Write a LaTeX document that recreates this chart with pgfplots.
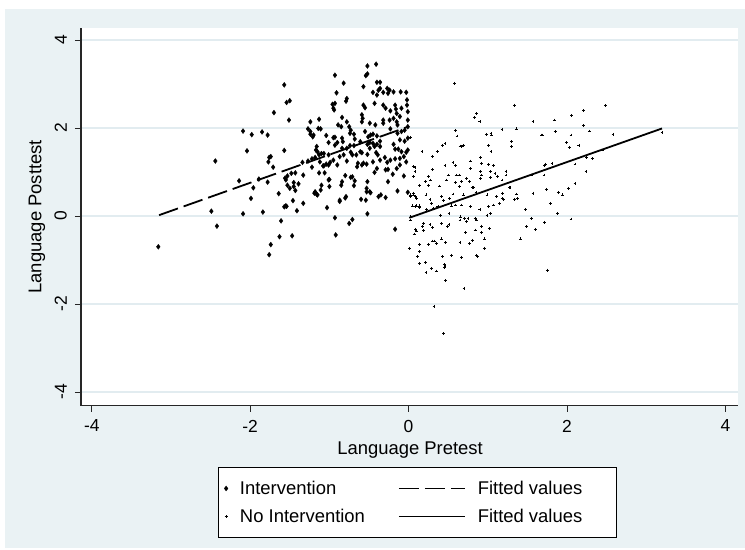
\documentclass[border=0pt]{standalone}
\usepackage{pgfplots}
\pgfplotsset{compat=1.18}
\usepackage{fontspec}
\setmainfont{Liberation Sans}
\definecolor{bgc}{RGB}{234,242,244}
\definecolor{gridc}{RGB}{226,236,240}
\newcommand\labfont{\fontsize{18.5}{22}\selectfont}
\newcommand\tickfont{\fontsize{17.5}{20}\selectfont}
\pgfplotsset{
  ptlegend/.style={legend image code/.code={\draw[mark repeat=2,mark phase=2,##1] plot coordinates {(0bp,0bp) (5bp,0bp) (10bp,0bp)};}},
  lnlegend/.style={legend image code/.code={\draw[##1] (0bp,0bp) -- (66bp,0bp);}},
}
\begin{document}
\begin{tikzpicture}
\useasboundingbox (0,0) rectangle (745bp,550bp);
\fill[white] (0,0) rectangle (745bp,550bp);
\fill[bgc] (5bp,2bp) rectangle (745bp,541bp);
\begin{axis}[
  at={(81bp,144.3bp)}, anchor=south west,
  scale only axis, width=657bp, height=377.7bp,
  xmin=-4.136, xmax=4.159, ymin=-4.311, ymax=4.273,
  axis background/.style={fill=white},
  axis x line*=bottom, axis y line*=left,
  axis line style={-, line width=1.1bp, color=black!85},
  xtick={-4,-2,0,2,4}, ytick={-4,-2,0,2,4},
  tick align=outside, major tick length=6bp,
  tick style={line width=1bp, color=black!85},
  ymajorgrids=true,
  grid style={draw=gridc, line width=1.3bp},
  /pgf/number format/assume math mode=true,
  tick label style={font=\tickfont},
  yticklabel style={rotate=90, anchor=south, inner sep=0pt, yshift=8bp},
  xticklabel style={inner sep=0pt, yshift=-8bp},
  xlabel={Language Pretest}, ylabel={Language Posttest},
  label style={font=\labfont},
  xlabel style={at={(axis description cs:0.5008,-0.117)}, anchor=center},
  ylabel style={at={(axis description cs:-0.067,0.5)}, anchor=center},
  legend columns=2,
  legend style={at={(axis description cs:0.5122,-0.1623)}, anchor=north,
    draw=black, line width=0.9bp, fill=white, font=\labfont,
    inner xsep=6bp, inner ysep=14bp,
    cells={anchor=west}, column sep=12bp, row sep=14bp,
    nodes={inner sep=0pt, text height=13bp, text depth=1bp},
    /tikz/every even column/.append style={column sep=33bp}},
  clip=true,
]
\addplot[only marks, mark=diamond*, mark size=2.5bp,
  mark options={fill=black, draw=black, line width=0.3bp}, ptlegend]
coordinates {
(-1.70,2.35) (-1.51,2.18) (-2.09,1.93) (-1.98,1.85) (-1.85,1.91) (-1.78,1.84)
(-2.04,1.48) (-1.57,1.49) (-2.44,1.25) (-1.76,1.33) (-1.74,1.35) (-1.77,1.23)
(-1.71,1.11) (-2.14,0.80) (-1.89,0.84) (-1.78,0.77) (-1.96,0.64) (-1.55,0.82)
(-1.53,0.70) (-1.64,0.51) (-1.99,0.40) (-2.49,0.11) (-2.09,0.05) (-1.84,0.09)
(-1.54,0.22) (-2.42,-0.23) (-1.61,-0.11) (-3.16,-0.70) (-1.63,-0.47) (-1.74,-0.65)
(-1.76,-0.88) (-1.57,2.98) (-1.54,2.58) (-1.50,2.62)
(-0.93,3.20) (-0.82,3.02) (-0.91,2.80) (-0.78,2.67) (-0.79,2.61) (-0.96,2.54)
(-0.93,2.56) (-0.94,2.41) (-0.95,2.45) (-0.84,2.24) (-1.24,2.14) (-1.13,2.20)
(-1.27,1.98) (-1.24,1.86) (-1.21,1.80) (-1.11,1.98) (-1.04,1.83) (-0.85,2.03)
(-0.89,2.07) (-0.78,2.14) (-0.75,2.03) (-0.73,1.95) (-0.74,1.88) (-0.84,1.77)
(-0.69,1.86) (-0.68,1.75) (-0.52,3.41) (-0.41,3.45) (-0.54,3.19) (-0.52,3.23)
(-0.40,3.04) (-0.36,3.04) (-0.57,2.94) (-0.38,2.86) (-0.36,2.90) (-0.27,2.90)
(-0.24,2.86) (-0.26,2.79) (-0.45,2.81) (-0.40,2.75) (-0.32,2.81) (-0.19,2.82)
(-0.10,2.82) (-0.03,2.81) (-0.57,2.52) (-0.55,2.46) (-0.43,2.56) (-0.32,2.52)
(-0.29,2.45) (-0.23,2.39) (-0.17,2.52) (-0.16,2.43) (-0.02,2.64) (-0.02,2.52)
(-0.01,2.37) (-0.09,2.45) (-0.59,2.30) (-0.58,2.22) (-0.59,2.14) (-0.49,2.11)
(-0.42,2.07) (-0.32,2.11) (-0.32,2.18) (-0.24,2.18) (-0.19,2.22) (-0.15,2.14)
(-0.11,2.26) (-0.15,2.33) (-0.01,2.18) (-0.01,2.03) (-0.05,1.95) (-0.09,1.92)
(-0.14,2.07) (-0.23,1.98) (-0.55,1.92) (-0.51,1.80) (-0.48,1.84) (-0.45,1.86)
(-0.40,1.82) (-0.36,1.70) (-0.45,1.65) (-0.49,1.67) (-0.52,1.63) (-0.49,1.54)
(-0.43,1.58) (-0.40,1.63) (-0.36,1.58) (-0.41,1.44) (-0.39,1.39) (-0.52,1.40)
(-0.59,1.44) (-0.61,1.46) (-0.66,1.39) (-0.71,1.39) (-0.73,1.45) (-0.61,1.69)
(-0.69,1.60) (-0.74,1.60) (-0.78,1.54) (-0.84,1.54) (-0.83,1.69) (-0.90,1.67)
(-0.93,1.61) (-1.01,1.67) (-0.93,1.79) (-0.95,1.78) (-1.16,1.58) (-1.17,1.50)
(-1.10,1.42) (-1.07,1.42) (-1.01,1.39) (-1.13,1.39) (-1.18,1.33) (-1.12,1.23)
(-1.04,1.18) (-0.99,1.22) (-0.95,1.27) (-1.34,1.22) (-1.27,1.25) (-1.22,1.30)
(-0.19,1.63) (-0.17,1.52) (-0.13,1.52) (-0.09,1.46) (-0.03,1.45) (-0.06,1.35)
(-0.11,1.31) (-0.17,1.30) (-0.23,1.27) (-0.27,1.22) (-0.30,1.33) (-0.36,1.27)
(-0.01,1.50) (-0.11,1.73) (-0.05,1.70) (-0.01,1.77) (-0.14,1.88) (-0.57,1.20)
(-0.64,1.20) (-0.78,1.25) (-0.82,1.39) (-0.87,1.35)
(-1.56,0.86) (-1.50,0.63) (-1.48,0.97) (-1.53,0.91) (-1.45,0.76) (-1.45,0.67)
(-1.43,0.58) (-1.39,0.73) (-1.33,0.93) (-1.22,1.11) (-1.13,0.98) (-1.08,1.14)
(-1.01,1.16) (-0.90,1.16) (-1.46,0.35) (-1.55,0.23) (-1.41,0.12) (-1.33,0.29)
(-1.18,0.55) (-1.16,0.49) (-1.11,0.59) (-1.10,0.70) (-1.00,0.83) (-1.00,0.67)
(-1.03,0.19) (-0.87,0.33) (-0.80,0.41) (-0.84,0.78) (-0.85,0.70) (-0.80,0.92)
(-0.73,0.88) (-0.68,0.80) (-0.69,0.69) (-0.60,0.38) (-0.54,0.36) (-0.53,0.63)
(-0.48,0.53) (-0.52,0.78) (-0.38,0.44) (-0.35,0.48) (-0.29,0.42) (-0.26,0.78)
(-0.14,0.57) (-0.01,0.54) (-0.06,0.91) (-0.20,0.95) (-0.65,1.12) (-0.59,1.16)
(-0.53,1.18) (-0.45,1.23) (-0.40,1.08) (-0.43,0.99) (-0.29,1.05) (-0.26,1.06)
(-0.15,1.08) (-0.11,1.16) (-0.03,1.23) (-0.52,0.05) (-0.71,-0.08) (-0.75,-0.17)
(-0.93,-0.04) (-0.92,-0.43) (-1.47,-0.45) (-0.17,-0.30)
(-1.57,0.21) (-1.43,0.98) (-1.24,1.92) (-1.20,1.84) (-1.14,1.99) (-1.15,1.46)
(-1.07,1.14) (-1.06,0.98) (-1.01,0.82) (-1.19,0.52) (-1.15,0.48) (-0.87,0.36)
(-0.79,0.44) (-0.71,0.89) (-0.53,0.55) (-0.49,0.55)
};
\addlegendentry{Intervention}
\addplot[black, line width=1.8bp, dash pattern=on 20bp off 6bp, lnlegend]
coordinates {(-3.15,0.02) (-0.02,2.02)};
\addlegendentry{\makebox[133bp][l]{Fitted values}}
\addplot[only marks, mark=+, mark size=1.4bp,
  mark options={draw=black, line width=0.75bp}, ptlegend]
coordinates {
(1.34,2.52) (0.86,2.33) (0.83,2.24) (0.90,2.14) (1.57,2.14) (0.59,1.95)
(0.61,1.82) (0.65,1.59) (0.69,1.61) (0.67,1.58) (0.98,1.86) (1.04,1.88)
(1.05,1.84) (1.18,1.97) (1.36,1.98) (1.01,1.61) (1.04,1.46) (1.30,1.69)
(1.30,1.58) (1.69,1.84) (0.43,1.61) (0.46,1.65) (0.36,1.46) (0.17,1.46)
(0.30,1.35) (0.02,1.79) (0.56,1.21) (0.59,1.14) (0.46,1.14) (0.78,1.25)
(0.78,1.08) (0.91,1.33) (0.92,1.20) (1.01,1.17) (1.07,1.14) (1.09,0.97)
(1.23,1.02) (1.23,0.93) (1.03,0.88) (0.91,1.01) (0.92,0.93) (0.30,1.05)
(0.08,1.10) (0.08,1.01) (0.25,0.89) (0.28,0.82) (0.21,0.78) (0.39,0.68)
(0.25,0.70) (0.14,0.69) (0.50,0.93) (0.48,0.82) (0.60,0.93) (0.64,0.93)
(0.67,0.78) (0.59,0.76) (0.64,0.67) (0.73,0.86) (0.77,0.78) (0.80,0.65)
(0.82,0.65) (0.91,0.86) (1.03,1.01) (1.12,0.89) (1.18,0.82) (1.28,0.65)
(1.36,0.50) (1.34,0.38) (1.18,0.40) (1.11,0.44) (0.99,0.48) (0.85,0.53)
(0.69,0.48) (0.56,0.50) (0.52,0.40) (0.44,0.36) (0.42,0.45) (0.06,0.52)
(0.10,0.40) (0.02,0.44) (0.22,0.48) (0.27,0.38) (0.29,0.29) (0.14,0.23)
(0.08,0.21) (0.23,0.14) (0.31,0.17) (0.37,0.21) (0.40,0.02) (0.51,0.06)
(0.54,0.23) (0.59,0.25) (0.67,0.25) (0.78,0.21) (0.90,0.14) (1.01,0.21)
(1.07,0.25) (1.15,0.29) (0.99,0.02) (1.03,0.06) (0.84,-0.05) (0.86,-0.09)
(0.75,-0.05) (0.66,-0.02) (0.71,-0.05) (0.19,-0.17) (0.27,-0.20) (0.42,-0.17)
(0.51,-0.20) (0.65,-0.09) (0.73,-0.13) (1.55,0.93) (1.74,0.61) (1.57,0.52)
(1.37,0.40) (1.27,0.65) (1.19,0.52) (1.20,0.38) (1.49,-0.24) (1.55,-0.05)
(1.48,0.15) (0.02,-0.02) (0.02,-0.09) (0.09,-0.30) (0.10,-0.34) (0.07,-0.41)
(0.18,-0.24) (0.19,-0.33) (0.30,-0.26) (0.49,-0.23) (0.72,-0.37) (0.84,-0.32)
(0.92,-0.37) (0.92,-0.23) (1.02,-0.28) (0.81,-0.55) (0.77,-0.62) (0.65,-0.61)
(0.96,-0.52) (0.96,-0.73) (0.01,-0.73) (0.14,-0.64) (0.14,-0.81) (0.11,-0.92)
(0.25,-0.64) (0.30,-0.57) (0.33,-0.57) (0.35,-0.62) (0.42,-0.52) (0.47,-0.60)
(0.54,-0.89) (0.43,-0.92) (0.67,-0.94) (0.86,-0.90) (0.87,-0.92) (0.14,-1.08)
(0.21,-1.05) (0.29,-1.19) (0.35,-1.25) (0.22,-1.29) (0.45,-1.10) (0.45,-1.17)
(0.46,-1.15) (0.47,-1.47) (0.70,-1.64) (0.32,-2.05) (0.44,-2.67) (1.60,-0.30)
(1.41,-0.52) (1.75,-1.23) (2.49,2.51) (2.21,2.39) (2.06,2.28) (1.84,2.18)
(2.21,2.05) (2.28,1.93) (1.85,1.92) (2.05,1.84) (2.58,1.86) (1.68,1.84)
(1.99,1.67) (2.03,1.56) (2.15,1.61) (3.20,1.89) (2.45,1.50) (2.32,1.30)
(2.25,1.33) (2.10,1.18) (1.81,1.20) (1.73,1.18) (1.72,1.14) (1.71,0.93)
(2.24,1.01) (2.10,0.74) (2.02,0.63) (1.89,0.54) (1.94,0.48) (1.79,0.29)
(1.88,0.06) (1.72,-0.14) (2.05,-0.07) (0.58,3.02) (0.06,1.12) (0.06,0.89)
(0.02,0.48) (0.06,0.48) (0.09,0.44) (0.05,0.23) (0.10,0.23) (0.14,0.19)
};
\addlegendentry{No Intervention}
\addplot[black, line width=1.8bp, lnlegend]
coordinates {(0.01,-0.04) (3.20,1.99)};
\addlegendentry{\makebox[133bp][l]{Fitted values}}
\end{axis}
\end{tikzpicture}
\end{document}
